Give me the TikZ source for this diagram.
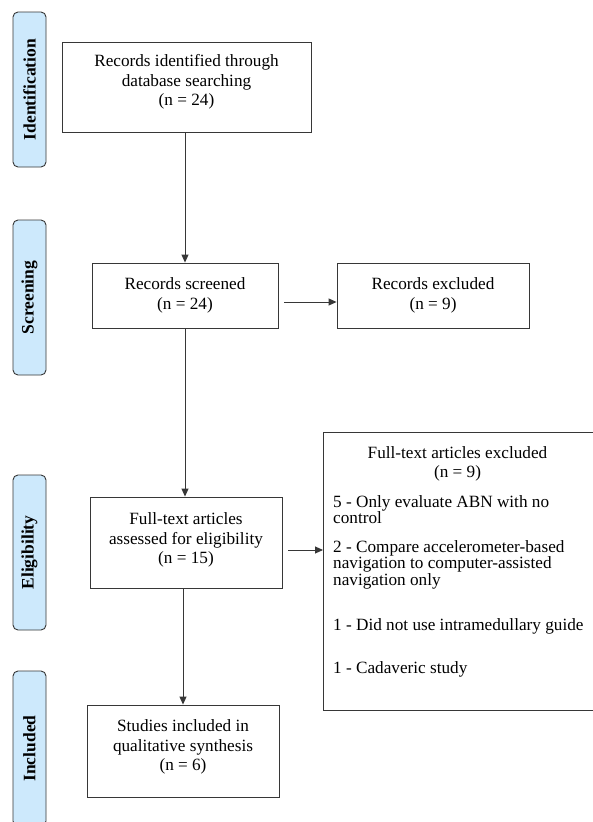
\documentclass[tikz,border=0pt]{standalone}
\usepackage{fontspec}
\setmainfont{Liberation Serif}
\usetikzlibrary{arrows.meta,positioning,calc}
\definecolor{stagefill}{RGB}{205,233,252}
\definecolor{linecol}{RGB}{55,55,55}
\tikzset{
  stage/.style={draw=linecol,line width=0.9pt,fill=stagefill,rounded corners=5pt,
    minimum width=33pt,minimum height=155pt,inner sep=0pt},
  stagetext/.style={rotate=90,font=\rmfamily\fontsize{17.5}{19}\selectfont\bfseries,inner sep=0pt},
  flowbox/.style={draw=linecol,line width=0.9pt,fill=white,align=center,inner sep=0pt,
    font=\rmfamily\fontsize{17.2}{19.5}\selectfont},
  boxtext/.style={align=center,inner sep=0pt,font=\rmfamily\fontsize{17.2}{19.5}\selectfont},
  listtext/.style={anchor=north west,align=left,inner sep=0pt,
    font=\rmfamily\fontsize{17.2}{13.8}\selectfont},
  arr/.style={draw=linecol,line width=0.9pt,-{Triangle[length=8pt,width=7pt]}}
}
\begin{document}
\begin{tikzpicture}[x=1pt,y=-1pt]
\useasboundingbox (0,0) rectangle (593,822);
\clip (0,0) rectangle (593,822);
\fill[white] (0,0) rectangle (593,822);

% stage labels
\node[stage] (sid) at (29.5,89.5) {};
\node[stagetext] (tid) at (sid.center) {Identification};
\node[stage] (ssc) at (29.5,297.5) {};
\node[stagetext] (tsc) at (ssc.center) {Screening};
\node[stage] (sel) at (29.5,552.5) {};
\node[stagetext] (tel) at (sel.center) {Eligibility};
\node[stage] (sin) at (29.5,748.5) {};
\node[stagetext] (tin) at (sin.center) {Included};

% main boxes
\node[flowbox,minimum width=249pt,minimum height=90pt] (b1) at (186.5,87) {};
\node[boxtext] (t1) at (186.5,82) {Records identified through\\database searching\\(n = 24)};
\node[flowbox,minimum width=186pt,minimum height=65pt] (b2) at (185,295.5) {Records screened\\(n = 24)};
\node[flowbox,minimum width=192pt,minimum height=65pt] (x1) at (433,295.5) {Records excluded\\(n = 9)};
\node[flowbox,minimum width=192pt,minimum height=91pt] (b3) at (186,542.5) {};
\node[boxtext] (t3) at (186,540) {Full-text articles\\assessed for eligibility\\(n = 15)};
\node[flowbox,minimum width=192pt,minimum height=92pt] (b4) at (183,751) {};
\node[boxtext] (t4) at (183,747) {Studies included in\\qualitative synthesis\\(n = 6)};

% excluded full-text box
\node[flowbox,minimum width=275pt,minimum height=278pt,anchor=north west] (x2) at (323,432) {};
\node[boxtext] (x2h) at (457.5,464) {Full-text articles excluded\\(n = 9)};
\node[listtext] (l1) at (333,495) {5 - Only evaluate ABN with no\\control};
\node[listtext] (l2) at (333,540) {2 - Compare accelerometer-based\\navigation to computer-assisted\\navigation only};
\node[listtext] (l3) at (333,618) {1 - Did not use intramedullary guide};
\node[listtext] (l4) at (333,661) {1 - Cadaveric study};

% connectors
\draw[arr] (b2.north |- b1.south) -- (b2.north);
\draw[arr] (b2.south) -- (b2.south |- b3.north);
\draw[arr] (b4.north |- b3.south) -- (b4.north);
\coordinate (a1) at (284,302);
\draw[arr] (a1) -- (a1 -| x1.west);
\coordinate (a2) at (288,550);
\draw[arr] (a2) -- (a2 -| x2.west);
\end{tikzpicture}
\end{document}
